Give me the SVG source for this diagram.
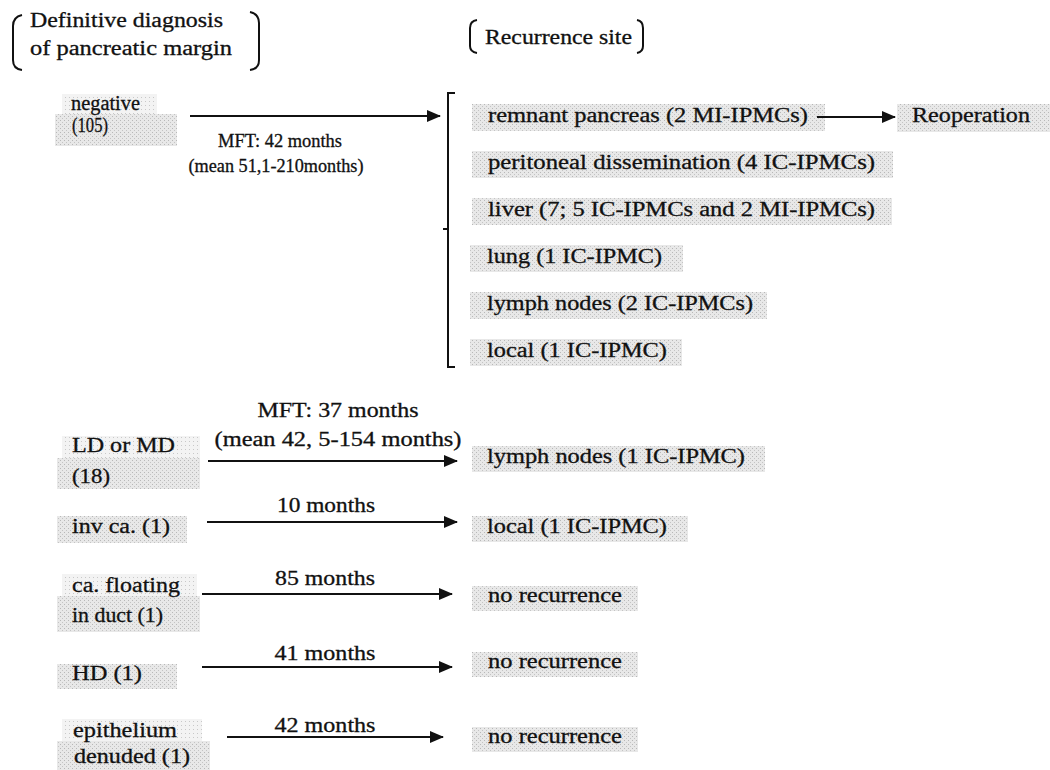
<svg xmlns="http://www.w3.org/2000/svg" width="1050" height="770" viewBox="0 0 1050 770">
<style>
text{font-family:"Liberation Serif","Times New Roman",serif;font-size:20px;fill:#111;stroke:#111;stroke-width:0.3}
.sm{font-size:18px}
.sh{fill:url(#dots)}
.lt{fill:url(#dotsl)}
.br{fill:none;stroke:#111;stroke-width:2}
.ar{stroke:#111;stroke-width:2;fill:none}
</style>
<defs>
<pattern id="dots" width="4" height="4" patternUnits="userSpaceOnUse">
<rect width="4" height="4" fill="#e8e8e8"/>
<rect x="0" y="0" width="1" height="1" fill="#b8b8b8"/>
<rect x="2" y="2" width="1" height="1" fill="#c4c4c4"/>
</pattern>
<pattern id="dotsl" width="4" height="4" patternUnits="userSpaceOnUse">
<rect width="4" height="4" fill="#f3f3f3"/>
<rect x="1" y="1" width="1" height="1" fill="#c8c8c8"/>
</pattern>
<marker id="ah" markerUnits="userSpaceOnUse" markerWidth="14" markerHeight="12" refX="13" refY="6" orient="auto">
<path d="M0,0 L14,6 L0,12 Z" fill="#111"/>
</marker>
</defs>
<rect width="1050" height="770" fill="#fff"/>

<g id="header-left">
<path class="br" d="M22,15 Q13,17 13,26 L13,60 Q13,69 22,70"/>
<text x="30" y="27" textLength="193" lengthAdjust="spacingAndGlyphs">Definitive diagnosis</text>
<text x="30" y="55" textLength="202" lengthAdjust="spacingAndGlyphs">of pancreatic margin</text>
<path class="br" d="M250,12 Q259,14 259,23 L259,60 Q259,69 250,70"/>
</g>

<g id="header-right">
<path class="br" d="M477,20 Q470,21 470,28 L470,46 Q470,52 477,53"/>
<text x="485" y="44" textLength="147" lengthAdjust="spacingAndGlyphs">Recurrence site</text>
<path class="br" d="M637,20 Q643,21 643,28 L643,46 Q643,52 637,53"/>
</g>

<g id="negative">
<rect class="lt" x="62" y="94" width="95" height="20"/>
<rect class="sh" x="55" y="114" width="122" height="32"/>
<text x="71" y="110" textLength="69" lengthAdjust="spacingAndGlyphs">negative</text>
<text x="72" y="132" textLength="36" lengthAdjust="spacingAndGlyphs">(105)</text>
</g>

<g id="sites">
<path class="br" d="M455,93 L448,93 L448,367 L455,367 M448,229 L443,229"/>
<g id="remnant"><rect class="sh" x="472" y="104" width="353" height="27"/><text x="488" y="122" textLength="320" lengthAdjust="spacingAndGlyphs">remnant pancreas (2 MI-IPMCs)</text></g>
<g id="peritoneal"><rect class="sh" x="472" y="151" width="421" height="27"/><text x="488" y="169" textLength="387" lengthAdjust="spacingAndGlyphs">peritoneal dissemination (4 IC-IPMCs)</text></g>
<g id="liver"><rect class="sh" x="472" y="198" width="420" height="27"/><text x="488" y="216" textLength="387" lengthAdjust="spacingAndGlyphs">liver (7; 5 IC-IPMCs and 2 MI-IPMCs)</text></g>
<g id="lung"><rect class="sh" x="470" y="245" width="213" height="27"/><text x="487" y="263" textLength="175" lengthAdjust="spacingAndGlyphs">lung (1 IC-IPMC)</text></g>
<g id="lymph2"><rect class="sh" x="470" y="292" width="297" height="27"/><text x="487" y="310" textLength="266" lengthAdjust="spacingAndGlyphs">lymph nodes (2 IC-IPMCs)</text></g>
<g id="local1"><rect class="sh" x="470" y="339" width="212" height="27"/><text x="487" y="357" textLength="180" lengthAdjust="spacingAndGlyphs">local (1 IC-IPMC)</text></g>
</g>

<g id="reoperation">
<rect class="sh" x="897" y="104" width="153" height="28"/>
<text x="912" y="122" textLength="118" lengthAdjust="spacingAndGlyphs">Reoperation</text>
</g>

<g id="ld">
<rect class="lt" x="62" y="436" width="138" height="22"/>
<rect class="sh" x="57" y="458" width="143" height="31"/>
<text x="72" y="452" textLength="103" lengthAdjust="spacingAndGlyphs">LD or MD</text>
<text x="72" y="483" textLength="38" lengthAdjust="spacingAndGlyphs">(18)</text>
</g>
<g id="lymph1"><rect class="sh" x="472" y="446" width="293" height="26"/><text x="487" y="463" textLength="258" lengthAdjust="spacingAndGlyphs">lymph nodes (1 IC-IPMC)</text></g>

<g id="invca"><rect class="sh" x="57" y="516" width="130" height="27"/><text x="72" y="533" textLength="98" lengthAdjust="spacingAndGlyphs">inv ca. (1)</text></g>
<g id="local2"><rect class="sh" x="472" y="516" width="216" height="26"/><text x="487" y="533" textLength="180" lengthAdjust="spacingAndGlyphs">local (1 IC-IPMC)</text></g>

<g id="cafloat">
<rect class="lt" x="62" y="574" width="135" height="22"/>
<rect class="sh" x="57" y="596" width="143" height="36"/>
<text x="72" y="592" textLength="108" lengthAdjust="spacingAndGlyphs">ca. floating</text>
<text x="72" y="622" textLength="91" lengthAdjust="spacingAndGlyphs">in duct (1)</text>
</g>
<g id="norec1"><rect class="sh" x="472" y="586" width="166" height="25"/><text x="488" y="602" textLength="134" lengthAdjust="spacingAndGlyphs">no recurrence</text></g>

<g id="hd"><rect class="sh" x="57" y="664" width="120" height="25"/><text x="72" y="680" textLength="70" lengthAdjust="spacingAndGlyphs">HD (1)</text></g>
<g id="norec2"><rect class="sh" x="472" y="652" width="166" height="25"/><text x="488" y="668" textLength="134" lengthAdjust="spacingAndGlyphs">no recurrence</text></g>

<g id="epi">
<rect class="lt" x="62" y="719" width="140" height="22"/>
<rect class="sh" x="57" y="741" width="153" height="29"/>
<text x="73" y="737" textLength="104" lengthAdjust="spacingAndGlyphs">epithelium</text>
<text x="74" y="763" textLength="116" lengthAdjust="spacingAndGlyphs">denuded (1)</text>
</g>
<g id="norec3"><rect class="sh" x="472" y="727" width="166" height="25"/><text x="488" y="743" textLength="134" lengthAdjust="spacingAndGlyphs">no recurrence</text></g>

<g id="connectors">
<line class="ar" x1="190" y1="116" x2="440" y2="116" marker-end="url(#ah)"/>
<line class="ar" x1="817" y1="117" x2="895" y2="117" marker-end="url(#ah)"/>
<line class="ar" x1="208" y1="461" x2="457" y2="461" marker-end="url(#ah)"/>
<line class="ar" x1="207" y1="522" x2="457" y2="522" marker-end="url(#ah)"/>
<line class="ar" x1="202" y1="594" x2="452" y2="594" marker-end="url(#ah)"/>
<line class="ar" x1="202" y1="667" x2="452" y2="667" marker-end="url(#ah)"/>
<line class="ar" x1="227" y1="737" x2="443" y2="737" marker-end="url(#ah)"/>
</g>

<g id="labels">
<text class="sm" x="280" y="147" text-anchor="middle" textLength="124" lengthAdjust="spacingAndGlyphs">MFT: 42 months</text>
<text class="sm" x="276" y="172" text-anchor="middle" textLength="175" lengthAdjust="spacingAndGlyphs">(mean 51,1-210months)</text>
<text x="338" y="417" text-anchor="middle" textLength="161" lengthAdjust="spacingAndGlyphs">MFT: 37 months</text>
<text x="338" y="446" text-anchor="middle" textLength="247" lengthAdjust="spacingAndGlyphs">(mean 42, 5-154 months)</text>
<text x="326" y="512" text-anchor="middle" textLength="98" lengthAdjust="spacingAndGlyphs">10 months</text>
<text x="325" y="585" text-anchor="middle" textLength="100" lengthAdjust="spacingAndGlyphs">85 months</text>
<text x="325" y="660" text-anchor="middle" textLength="101" lengthAdjust="spacingAndGlyphs">41 months</text>
<text x="325" y="732" text-anchor="middle" textLength="101" lengthAdjust="spacingAndGlyphs">42 months</text>
</g>
</svg>
